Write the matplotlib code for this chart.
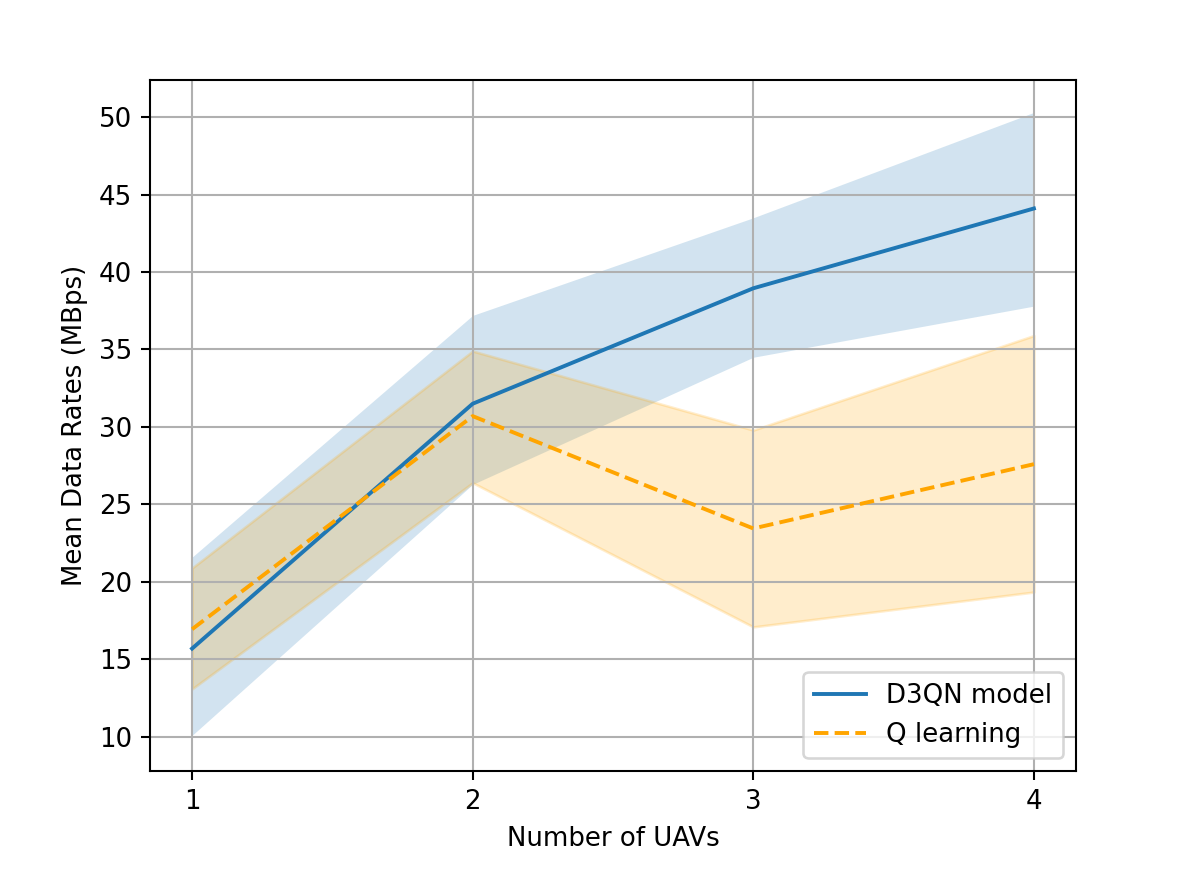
import matplotlib
matplotlib.use("Agg")
import matplotlib.pyplot as plt

uavs = [1, 2, 3, 4]
d3qn_mean = [15.7, 31.5, 38.95, 44.1]
d3qn_low = [10.1, 26.3, 34.5, 37.8]
d3qn_high = [21.6, 37.2, 43.5, 50.3]
q_mean = [16.95, 30.7, 23.45, 27.6]
q_low = [13.1, 26.4, 17.1, 19.35]
q_high = [20.9, 34.9, 29.8, 35.9]

dpi = 187
fig = plt.figure(figsize=(1196 / dpi, 869 / dpi), dpi=dpi)
ax = fig.add_axes([150 / 1196, 1 - 771 / 869, (1076 - 150) / 1196, (771 - 80) / 869])

ax.plot(uavs, d3qn_mean, color='C0', label='D3QN model')
ax.fill_between(uavs, d3qn_low, d3qn_high, color='C0', alpha=0.2, linewidth=0)
ax.plot(uavs, q_mean, color='orange', linestyle='--', label='Q learning')
ax.fill_between(uavs, q_low, q_high, color='orange', alpha=0.2)

ax.set_xticks(uavs)
ax.set_ylim(7.8, 52.39)
ax.set_xlabel('Number of UAVs')
ax.set_ylabel('Mean Data Rates (MBps)')
ax.grid(True)
ax.legend(loc='lower right')

fig.savefig('out.png', dpi=dpi)
